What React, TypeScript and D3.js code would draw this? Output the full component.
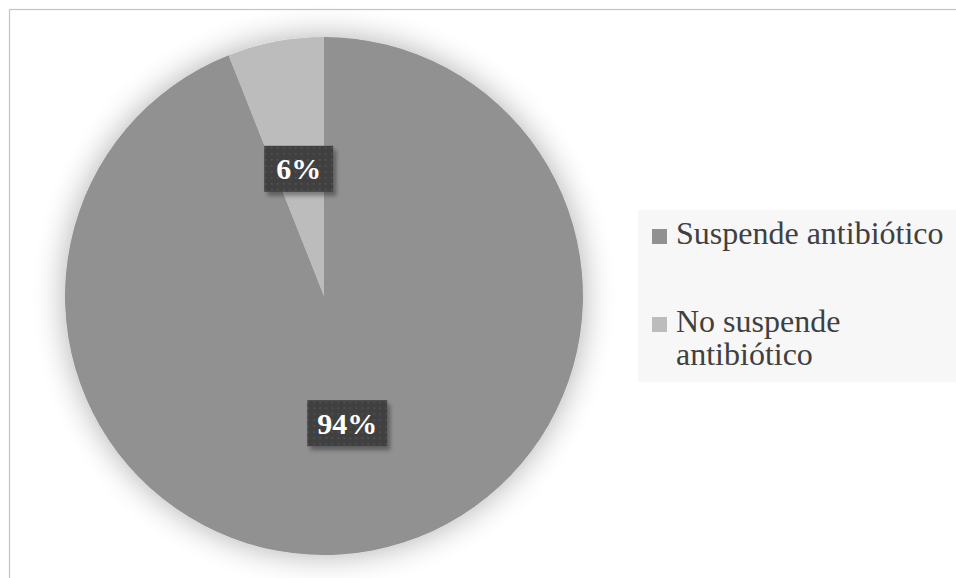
import React from "react";
import * as d3 from "d3";

const categories = ["Suspende antibiótico", "No suspende antibiótico"];
const legendLines = [["Suspende antibiótico"], ["No suspende", "antibiótico"]];
const values = [94, 6];
const labels = ["94%", "6%"];
const labelBoxWidths = [80, 69];
const colors = ["#919191", "#bcbcbc"];

const W = 956;
const H = 578;
const cx = 324;
const cy = 296;
const R = 259;
const SERIF = '"Liberation Serif", "Times New Roman", Times, serif';

export default function App() {
  const pie = d3.pie<number>().sort(null).value((d) => d)(values);
  const arc = d3.arc<d3.PieArcDatum<number>>().innerRadius(0).outerRadius(R);

  return (
    <svg
      width={W}
      height={H}
      style={{ position: "absolute", left: 0, top: 0, background: "#fff", fontFamily: SERIF }}
    >
      <defs>
        <filter id="pieShadow" x="-25%" y="-25%" width="150%" height="150%">
          <feGaussianBlur in="SourceAlpha" stdDeviation="16" />
          <feComponentTransfer>
            <feFuncA type="linear" slope="0.32" />
          </feComponentTransfer>
          <feMerge>
            <feMergeNode />
            <feMergeNode in="SourceGraphic" />
          </feMerge>
        </filter>
        <filter id="boxShadow" x="-30%" y="-30%" width="160%" height="160%">
          <feGaussianBlur in="SourceAlpha" stdDeviation="2" />
          <feOffset dx="3" dy="4" />
          <feComponentTransfer>
            <feFuncA type="linear" slope="0.35" />
          </feComponentTransfer>
          <feMerge>
            <feMergeNode />
            <feMergeNode in="SourceGraphic" />
          </feMerge>
        </filter>
        <pattern id="dots" width="6" height="6" patternUnits="userSpaceOnUse">
          <rect width="6" height="6" fill="#404040" />
          <circle cx="3" cy="3" r="0.9" fill="#555" />
        </pattern>
      </defs>

      {/* chart frame */}
      <rect x={9.5} y={9.5} width={W + 10} height={H + 10} fill="#fff" stroke="#c4c4c4" strokeWidth={1.2} />

      {/* pie */}
      <g transform={`translate(${cx},${cy})`}>
        <g filter="url(#pieShadow)">
          {pie.map((d, i) => (
            <path key={categories[i]} d={arc(d) ?? ""} fill={colors[i]} />
          ))}
        </g>
        {pie.map((d, i) => {
          const [x, y] = arc.centroid(d);
          const bw = labelBoxWidths[i];
          const bh = 46;
          return (
            <g key={labels[i]} transform={`translate(${x - 1},${y})`}>
              <rect
                x={-bw / 2}
                y={-bh / 2}
                width={bw}
                height={bh}
                fill="url(#dots)"
                filter="url(#boxShadow)"
              />
              <text
                textAnchor="middle"
                dy="0.35em"
                fill="#fff"
                fontWeight="bold"
                fontSize={30}
                style={{ fontFamily: SERIF }}
              >
                {labels[i]}
              </text>
            </g>
          );
        })}
      </g>

      {/* legend */}
      <rect x={638} y={210} width={330} height={172} fill="#f7f7f7" />
      {categories.map((c, i) => {
        const y0 = 244 + i * 88;
        return (
          <g key={c}>
            <rect x={652} y={y0 - 15} width={15} height={15} fill={colors[i]} />
            {legendLines[i].map((line, j) => (
              <text
                key={line}
                x={676}
                y={y0 + j * 33}
                fontSize={32}
                fill="#404040"
                style={{ fontFamily: SERIF }}
              >
                {line}
              </text>
            ))}
          </g>
        );
      })}
    </svg>
  );
}
